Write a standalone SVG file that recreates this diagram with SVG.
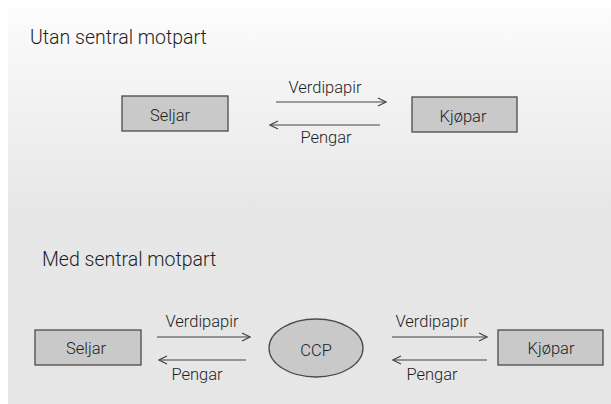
<svg xmlns="http://www.w3.org/2000/svg" width="611" height="404" viewBox="0 0 611 404">
  <defs>
    <linearGradient id="panelFill" x1="0" y1="8" x2="0" y2="404" gradientUnits="userSpaceOnUse">
      <stop offset="0" stop-color="#fcfcfc"/>
      <stop offset="0.5" stop-color="#e7e7e7"/>
      <stop offset="1" stop-color="#e6e6e6"/>
    </linearGradient>
    <marker id="chev" viewBox="0 0 10 10" refX="9" refY="5" markerWidth="10" markerHeight="10" markerUnits="userSpaceOnUse" orient="auto">
      <path d="M1,1 L9,5 L1,9" fill="none" stroke="#444" stroke-width="1.2"/>
    </marker>
    <style>
      text { font-family: Roboto, "Liberation Sans", Arial, sans-serif; font-weight: 300; fill: #1e1e1e; }
      .title { font-size: 19.5px; }
      .lbl { font-size: 16.5px; text-anchor: middle; }
      .box { fill: #c9c9c9; stroke: #4a4a4a; stroke-width: 1.3; }
      .flow { stroke: #444; stroke-width: 1.2; fill: none; marker-end: url(#chev); }
    </style>
  </defs>

  <rect x="0" y="0" width="611" height="404" fill="#ffffff"/>
  <rect x="8" y="8" width="603" height="396" fill="url(#panelFill)"/>

  <text class="title" x="30" y="44">Utan sentral motpart</text>
  <text class="title" x="42" y="266">Med sentral motpart</text>

  <!-- Without central counterparty -->
  <g id="seljar-top">
    <rect class="box" x="122" y="96" width="106" height="35"/>
    <text class="lbl" x="170" y="121">Seljar</text>
  </g>
  <g id="kjopar-top">
    <rect class="box" x="412" y="97" width="105" height="35"/>
    <text class="lbl" x="463" y="122">Kjøpar</text>
  </g>

  <!-- With central counterparty -->
  <g id="seljar-bottom">
    <rect class="box" x="35" y="330" width="106" height="35"/>
    <text class="lbl" x="86" y="354">Seljar</text>
  </g>
  <g id="ccp">
    <ellipse class="box" cx="316" cy="348" rx="47" ry="29"/>
    <text class="lbl" x="316" y="356">CCP</text>
  </g>
  <g id="kjopar-bottom">
    <rect class="box" x="498" y="330" width="105" height="35"/>
    <text class="lbl" x="551" y="354">Kjøpar</text>
  </g>

  <g id="connectors">
    <line class="flow" x1="276" y1="102" x2="386" y2="102"/>
    <text class="lbl" x="325" y="93">Verdipapir</text>
    <line class="flow" x1="380" y1="125" x2="270" y2="125"/>
    <text class="lbl" x="326" y="143">Pengar</text>

    <line class="flow" x1="157" y1="337" x2="250" y2="337"/>
    <text class="lbl" x="202" y="327">Verdipapir</text>
    <line class="flow" x1="246" y1="360" x2="159" y2="360"/>
    <text class="lbl" x="197" y="380">Pengar</text>

    <line class="flow" x1="392" y1="337" x2="487" y2="337"/>
    <text class="lbl" x="432" y="327">Verdipapir</text>
    <line class="flow" x1="487" y1="360" x2="393" y2="360"/>
    <text class="lbl" x="432" y="380">Pengar</text>
  </g>
</svg>
